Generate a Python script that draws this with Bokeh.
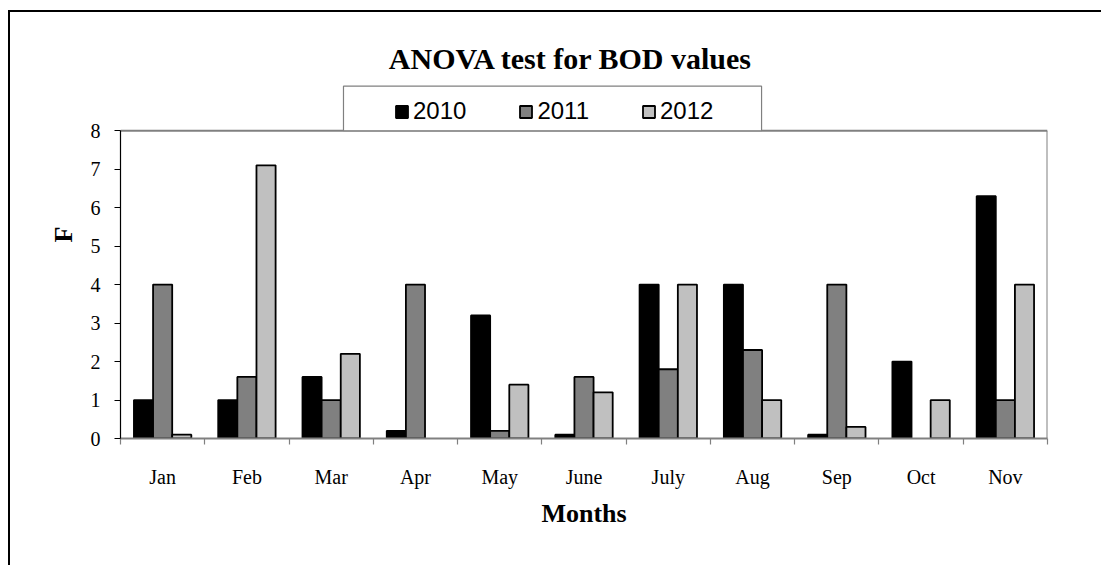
import numpy as np
from bokeh.plotting import figure
from bokeh.models import (Range1d, FixedTicker, Legend, LegendItem, Label,
                          ColumnDataSource)
from bokeh.embed import file_html
from bokeh.resources import INLINE

# ---- data ----
months = ["Jan", "Feb", "Mar", "Apr", "May", "June", "July", "Aug", "Sep", "Oct", "Nov"]
f_2010 = [1.0, 1.0, 1.6, 0.2, 3.2, 0.1, 4.0, 4.0, 0.1, 2.0, 6.3]
f_2011 = [4.0, 1.6, 1.0, 4.0, 0.2, 1.6, 1.8, 2.3, 4.0, 0.0, 1.0]
f_2012 = [0.1, 7.1, 2.2, 0.0, 1.4, 1.2, 4.0, 1.0, 0.3, 1.0, 4.0]
years = ["2010", "2011", "2012"]
colors = ["#000000", "#808080", "#C0C0C0"]
y_ticks = [0, 1, 2, 3, 4, 5, 6, 7, 8]

SERIF = "Liberation Serif"
SANS = "Liberation Sans"

n = len(months)
y_max = 8
px_per_unit = 38.47
W, H = 1093, 555
mb_left, mb_right, mb_top, mb_bottom = 110, 56, 18, 129
frame_h = H - mb_top - mb_bottom
y_end = frame_h / px_per_unit

p = figure(width=W, height=H, output_backend="svg", toolbar_location=None,
           x_range=Range1d(0, n), y_range=Range1d(0, y_end),
           min_border_left=mb_left, min_border_right=mb_right,
           min_border_top=mb_top, min_border_bottom=mb_bottom,
           title=None)
p.styles = {"border-left": "2px solid black", "border-top": "2px solid black",
            "margin-left": "8px", "margin-top": "10px"}
p.outline_line_color = None
p.xgrid.visible = False
p.ygrid.visible = False
p.background_fill_color = "white"
p.border_fill_color = "white"

# bars
bw = 0.227
offsets = [-bw, 0.0, bw]
renderers = []
for vals, off, col in zip([f_2010, f_2011, f_2012], offsets, colors):
    xs = [i + 0.5 + off for i, v in enumerate(vals) if v > 0]
    ys = [v for v in vals if v > 0]
    src = ColumnDataSource(dict(x=xs, top=ys))
    r = p.vbar(x="x", top="top", bottom=0, width=bw, source=src,
               fill_color=col, line_color="black", line_width=1.8)
    renderers.append(r)

# plot-area frame (top and right in grey)
p.segment(x0=[0, n], y0=[y_max, 0], x1=[n, n], y1=[y_max, y_max],
          line_color="#808080", line_width=2)

# legend box
p.quad(left=[2.646], right=[7.607], bottom=[y_max], top=[9.158],
       fill_color="white", line_color="#808080", line_width=1.2)

legend = Legend(items=[LegendItem(label=y, renderers=[r]) for y, r in zip(years, renderers)],
                orientation="horizontal", location=(274, 313),
                padding=5, spacing=52, label_standoff=4,
                glyph_width=15, glyph_height=15,
                label_text_font=SANS, label_text_font_size="24px",
                label_text_color="black",
                background_fill_alpha=0, border_line_color=None)
p.add_layout(legend, "center")

# title
p.add_layout(Label(x=5.346, y=9.87, text="ANOVA test for BOD values",
                   text_font=SERIF, text_font_size="30px", text_font_style="bold",
                   text_align="center", text_baseline="middle", text_color="black"))

# y axis
ya = p.yaxis[0]
ya.ticker = FixedTicker(ticks=y_ticks, minor_ticks=[])
ya.bounds = (0, y_max)
ya.axis_line_color = "black"
ya.axis_line_width = 1.2
ya.major_tick_out = 6
ya.major_tick_in = 0
ya.minor_tick_out = 0
ya.minor_tick_in = 0
ya.major_tick_line_color = "black"
ya.major_label_standoff = 14
ya.major_label_text_font = SERIF
ya.major_label_text_font_size = "20px"
ya.major_label_text_color = "black"
ya.axis_label = "F"
ya.axis_label_text_font = SERIF
ya.axis_label_text_font_size = "26px"
ya.axis_label_text_font_style = "bold"
ya.axis_label_text_color = "black"
ya.axis_label_standoff = 10

# x axis
xa = p.xaxis[0]
centers = [i + 0.5 for i in range(n)]
xa.ticker = FixedTicker(ticks=centers, minor_ticks=list(range(n + 1)))
xa.major_label_overrides = {c: m for c, m in zip(centers, months)}
xa.axis_line_color = "#808080"
xa.axis_line_width = 2
xa.major_tick_out = 0
xa.major_tick_in = 0
xa.minor_tick_out = 6
xa.minor_tick_in = 0
xa.minor_tick_line_color = "#808080"
xa.minor_tick_line_width = 1.2
xa.major_label_standoff = 21
xa.major_label_text_font = SERIF
xa.major_label_text_font_size = "20px"
xa.major_label_text_color = "black"
xa.axis_label = "Months"
xa.axis_label_text_font = SERIF
xa.axis_label_text_font_size = "26px"
xa.axis_label_text_font_style = "bold"
xa.axis_label_text_color = "black"
xa.axis_label_standoff = 8

open("out.html", "w").write(file_html(p, INLINE))
